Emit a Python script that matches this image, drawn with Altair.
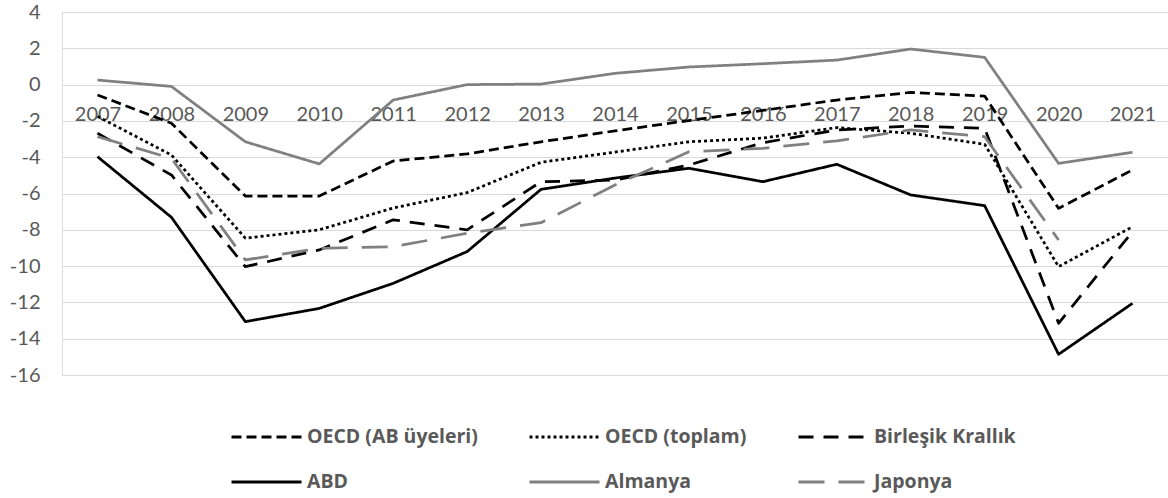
import altair as alt
import pandas as pd

years = [str(y) for y in range(2007, 2022)]
series_names = ["OECD (AB üyeleri)", "OECD (toplam)", "Birleşik Krallık", "ABD", "Almanya", "Japonya"]

oecd_ab = [-0.57, -2.13, -6.14, -6.14, -4.21, -3.82, -3.15, -2.55, -1.98, -1.42, -0.85, -0.43, -0.63, -6.82, -4.70]
oecd_total = [-1.75, -3.88, -8.46, -8.0, -6.8, -5.95, -4.28, -3.72, -3.15, -2.95, -2.37, -2.68, -3.29, -10.03, -7.83]
uk = [-2.68, -4.98, -10.03, -9.11, -7.45, -8.0, -5.35, -5.26, -4.43, -3.2, -2.5, -2.28, -2.41, -13.15, -8.1]
abd = [-3.97, -7.31, -13.06, -12.33, -10.95, -9.2, -5.77, -5.15, -4.61, -5.35, -4.39, -6.08, -6.67, -14.86, -12.05]
almanya = [0.25, -0.1, -3.15, -4.37, -0.85, 0.0, 0.03, 0.62, 0.97, 1.15, 1.35, 1.96, 1.5, -4.34, -3.73]
japonya = [-2.87, -4.06, -9.66, -9.02, -8.93, -8.19, -7.61, -5.53, -3.7, -3.51, -3.1, -2.5, -2.87, -8.56, None]

series_values = [oecd_ab, oecd_total, uk, abd, almanya, japonya]
colors = ["#000000", "#000000", "#000000", "#000000", "#808080", "#808080"]
dashes = [[10, 5], [3, 3], [15, 10], [1, 0], [1, 0], [26, 14]]
y_ticks = list(range(-16, 5, 2))

rows = []
for name, vals in zip(series_names, series_values):
    for yr, v in zip(years, vals):
        if v is not None:
            rows.append({"Yıl": yr, "Seri": name, "Değer": v})
df = pd.DataFrame(rows)

FONT = "Lato"
W, H = 1106, 363

chart = alt.Chart(df).mark_line(strokeWidth=2.75, strokeJoin="round").encode(
    x=alt.X("Yıl:O", sort=years, scale=alt.Scale(padding=0.48),
            axis=alt.Axis(title=None, labelAngle=0, domain=False, ticks=False, grid=False,
                          offset=-290.4, labelPadding=20, labelFontSize=20,
                          labelColor="#595959", labelFont=FONT)),
    y=alt.Y("Değer:Q", scale=alt.Scale(domain=[-16, 4], nice=False, zero=False),
            axis=alt.Axis(title=None, values=y_ticks, domain=False, ticks=False, grid=True,
                          gridColor="#d9d9d9", gridWidth=1.2, labelPadding=22,
                          labelFontSize=20, labelColor="#595959", labelFont=FONT,
                          labelExpr="datum.value + ''")),
    color=alt.Color("Seri:N", sort=series_names,
                    scale=alt.Scale(domain=series_names, range=colors),
                    legend=alt.Legend(title=None, orient="none", legendX=168, legendY=415,
                                      columns=3, direction="horizontal", gridAlign="each",
                                      columnPadding=50, rowPadding=25, clipHeight=20,
                                      symbolType="stroke", symbolSize=4900, symbolStrokeWidth=3,
                                      labelFont="Open Sans", labelFontSize=19.5, labelFontWeight="bold",
                                      labelColor="#595959", labelOffset=4, labelLimit=400,
                                      padding=0)),
    strokeDash=alt.StrokeDash("Seri:N", sort=series_names,
                              scale=alt.Scale(domain=series_names, range=dashes),
                              legend=None),
).properties(
    width=W, height=H,
    padding={"left": 62, "top": 12, "right": 0, "bottom": 123},
    autosize=alt.AutoSizeParams(type="none"),
).configure_view(stroke=None).configure(background="white")

chart.save("out.html", embed_options={"renderer": "svg", "actions": False})
